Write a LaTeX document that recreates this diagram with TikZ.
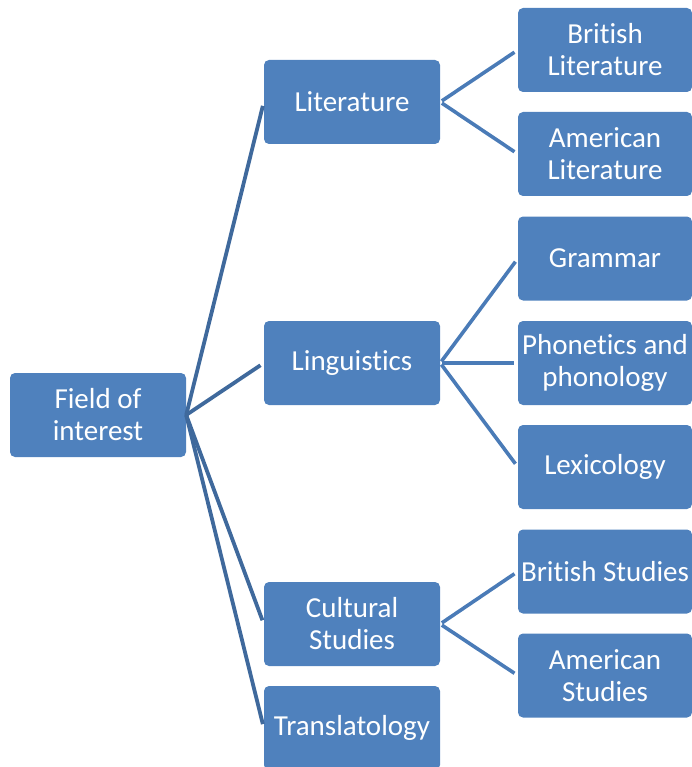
\documentclass[tikz,border=0pt]{standalone}
\usepackage{fontspec}
\setmainfont[Ligatures=NoCommon]{Carlito}
\definecolor{boxblue}{HTML}{4F81BD}
\definecolor{rootline}{HTML}{3F699C}
\definecolor{subline}{HTML}{4A7BB7}
\begin{document}
\begin{tikzpicture}[x=1pt,y=-1pt,
  box/.style={fill=boxblue, rounded corners=5pt, minimum width=176pt, minimum height=84pt,
    inner sep=0pt, align=center, text=white, font=\fontsize{29}{32}\selectfont},
  leaf/.style={box, minimum width=174pt},
  rl/.style={draw=rootline, line width=3.8pt, shorten >=4pt},
  sl/.style={draw=subline, line width=3.6pt, shorten >=4pt, shorten <=2pt}]
\useasboundingbox (0,0) rectangle (692,767);
\clip (0,0) rectangle (692,767);
\node[box] (root) at (98,415) {Field of\\interest};
\node[box] (lit) at (352,102) {Literature};
\node[box] (ling) at (352,363) {Linguistics};
\node[box] (cult) at (352,624) {Cultural\\Studies};
\node[box] (trans) at (352,728) {Translatology};
\node[leaf] (brl) at (605,50) {British\\Literature};
\node[leaf] (aml) at (605,154) {American\\Literature};
\node[leaf] (gram) at (605,258.5) {Grammar};
\node[leaf] (phon) at (605,363) {Phonetics and\\phonology};
\node[leaf] (lex) at (605,467) {Lexicology};
\node[leaf] (brs) at (605,571.5) {British Studies};
\node[leaf] (ams) at (605,675.5) {American\\Studies};
\draw[rl] (root.east) -- (lit.west);
\draw[rl] (root.east) -- (ling.west);
\draw[rl] (root.east) -- (cult.west);
\draw[rl] (root.east) -- (trans.west);
\draw[sl] (lit.east) -- (brl.west);
\draw[sl] (lit.east) -- (aml.west);
\draw[sl] (ling.east) -- (gram.west);
\draw[sl] (ling.east) -- (phon.west);
\draw[sl] (ling.east) -- (lex.west);
\draw[sl] (cult.east) -- (brs.west);
\draw[sl] (cult.east) -- (ams.west);
\end{tikzpicture}
\end{document}
